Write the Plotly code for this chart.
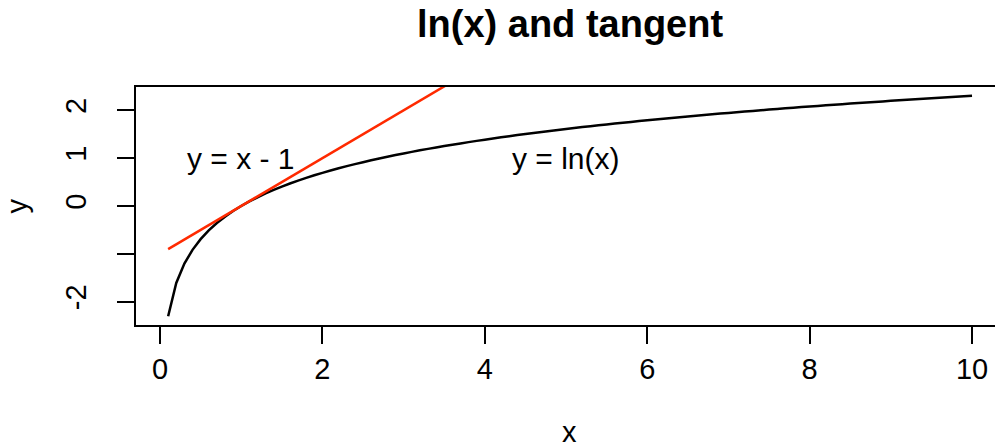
import plotly.graph_objects as go
import numpy as np

# x grid for the curve: 0.1 to 10 in steps of 0.1
x_vals = [round(0.1 * i, 1) for i in range(1, 101)]
ln_vals = np.log(x_vals)

# tangent at x = 1: y = x - 1
tan_x = [0.1, 10.0]
tan_y = [xv - 1 for xv in tan_x]

x_ticks = [0, 2, 4, 6, 8, 10]
y_ticks = [-2, -1, 0, 1, 2]
y_ticktext = ["-2", "", "0", "1", "2"]

FONT = "Liberation Sans, Arial, Helvetica, sans-serif"

fig = go.Figure()
fig.add_trace(go.Scatter(x=x_vals, y=ln_vals, mode="lines",
                         line=dict(color="black", width=2.5, simplify=False),
                         showlegend=False))
fig.add_trace(go.Scatter(x=tan_x, y=tan_y, mode="lines",
                         line=dict(color="#ff2a00", width=2.5), showlegend=False))

fig.add_annotation(x=1, y=1, xref="x", yref="y", text="y = x - 1", showarrow=False,
                   font=dict(size=30, color="black", family=FONT))
fig.add_annotation(x=5, y=1, xref="x", yref="y", text="y = ln(x)", showarrow=False,
                   font=dict(size=30, color="black", family=FONT))

fig.add_annotation(x=0.505, y=1.265, xref="paper", yref="paper",
                   xanchor="center", yanchor="middle",
                   text="<b>ln(x) and tangent</b>", showarrow=False,
                   font=dict(size=38, color="black", family=FONT))
fig.add_annotation(x=0.505, y=-0.45, xref="paper", yref="paper",
                   xanchor="center", yanchor="middle", text="x", showarrow=False,
                   font=dict(size=29, color="black", family=FONT))
fig.add_annotation(x=-0.138, y=0.5, xref="paper", yref="paper",
                   xanchor="center", yanchor="middle", text="y", showarrow=False,
                   textangle=-90, font=dict(size=29, color="black", family=FONT))

fig.update_layout(
    width=995, height=448,
    margin=dict(l=136, r=0, t=87, b=123),
    plot_bgcolor="white", paper_bgcolor="white",
    font=dict(family=FONT, color="black"),
)
fig.update_xaxes(range=[-0.296, 10.283], tickvals=x_ticks, ticks="outside", ticklen=17,
                 tickwidth=2, tickcolor="black", showline=True, linecolor="black",
                 linewidth=2, mirror=True, showgrid=False, zeroline=False,
                 tickfont=dict(size=29, color="black", family=FONT), ticklabelstandoff=0)
fig.update_yaxes(range=[-2.487, 2.487], tickvals=y_ticks, ticktext=y_ticktext,
                 ticks="outside", ticklen=17, tickwidth=2, tickcolor="black",
                 showline=True, linecolor="black", linewidth=2, mirror=False,
                 showgrid=False, zeroline=False, tickangle=-90,
                 tickfont=dict(size=29, color="black", family=FONT), ticklabelstandoff=19)

fig.write_html("out.html")
